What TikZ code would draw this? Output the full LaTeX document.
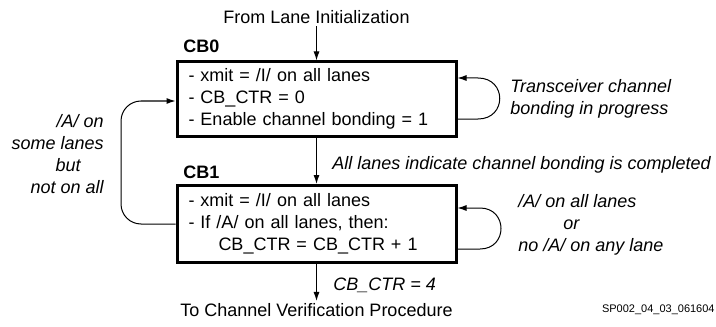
\documentclass[tikz,border=0pt]{standalone}
\usepackage{fontspec}
\setmainfont{Liberation Sans}
\usetikzlibrary{arrows.meta}
\begin{document}
\begin{tikzpicture}[x=0.5pt, y=-0.5pt, font=\fontsize{9}{11}\selectfont,
  state/.style={draw, line width=1.5pt, minimum width=139.5pt, text width=128pt,
    inner xsep=5pt, align=left},
  flow/.style={-{Latex[length=4.5pt,width=3pt]}, line width=0.5pt},
  cond/.style={font=\fontsize{9}{11}\selectfont\itshape, inner sep=0pt}]
\useasboundingbox (0,0) rectangle (716,326);
\node[inner sep=1pt] (P_init) at (316.5,17) {From Lane Initialization};
\node[state, minimum height=35.5pt] (P_CB0) at (316.5,99) {- xmit = /I/ on all lanes\\- CB\_CTR = 0\\- Enable channel bonding = 1};
\node[anchor=west, inner sep=0pt, font=\fontsize{9}{11}\selectfont\bfseries] (P_lbl0) at (183,46) {CB0};
\draw[flow] (P_init) -- (P_CB0);
\node[state, minimum height=38.5pt] (P_CB1) at (316.5,224) {- xmit = /I/ on all lanes\\- If /A/ on all lanes, then:\\\hspace*{15pt}CB\_CTR = CB\_CTR + 1};
\node[anchor=west, inner sep=0pt, font=\fontsize{9}{11}\selectfont\bfseries] (P_lbl1) at (183,172) {CB1};
\draw[flow] (P_CB0) -- (P_CB1);
\node[cond, anchor=west] (P_done) at (332,165) {All lanes indicate channel bonding is completed};
\node[inner sep=1pt] (P_verif) at (316.5,310) {To Channel Verification Procedure};
\draw[flow] (P_CB1) -- (P_verif);
\node[cond, anchor=west] (P_four) at (333,285) {CB\_CTR = 4};
% self loops
\draw[flow] ([yshift=-10pt]P_CB0.east) -- (478,119) .. controls (507,119) and (507,78) .. (478,78) -- ([yshift=10.5pt]P_CB0.east);
\node[cond, anchor=west, align=left] (P_prog) at (510,99) {Transceiver channel\\bonding in progress};
\draw[flow] ([yshift=-12.5pt]P_CB1.east) -- (480,249) .. controls (508,249) and (508,208) .. (480,208) -- ([yshift=8pt]P_CB1.east);
\node[cond, anchor=west, align=left] (P_stay) at (518,225) {/A/ on all lanes\\\hspace*{22.5pt}or\\no /A/ on any lane};
% back to CB0
\draw[flow, rounded corners=10pt] (P_CB1.west) -- (121,224) -- (121,101) -- ([yshift=-1pt]P_CB0.west);
\node[cond, anchor=east, align=right] (P_back) at (104,154) {/A/ on\\some lanes\\but\hspace*{11.5pt}\mbox{}\\not on all};
\node[anchor=east, inner sep=0pt, font=\fontsize{5.5}{6.5}\selectfont] (P_id) at (715,310) {SP002\_04\_03\_061604};
\end{tikzpicture}
\end{document}
